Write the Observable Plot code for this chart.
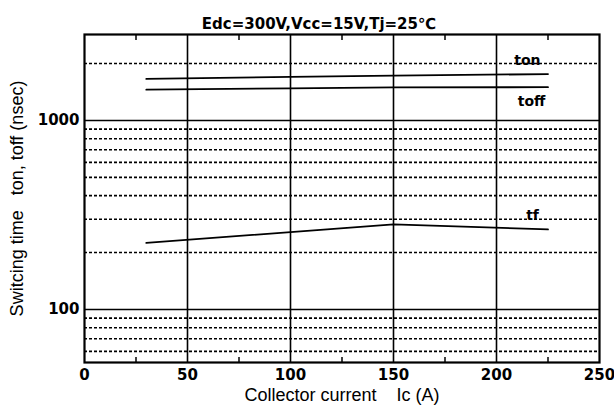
<!DOCTYPE html>
<html>
<head>
<meta charset="utf-8">
<script src="https://cdn.jsdelivr.net/npm/d3@7"></script>
<script src="https://cdn.jsdelivr.net/npm/@observablehq/plot@0.6"></script>
<style>
  html, body { margin: 0; padding: 0; background: #fff; }
  svg { display: block; }
</style>
</head>
<body>
<div id="chart"></div>
<script>
// ---- data ----
const xTicks = [0, 50, 100, 150, 200, 250];
const xMinorTicks = [25, 75, 125, 175, 225];
const xGrid = [50, 100, 150, 200];
const yLabeled = [100, 1000];
const yDashed = [60, 70, 80, 90, 200, 300, 400, 500, 600, 700, 800, 900, 2000];

const icOn = [30, 100, 150, 225];
const tonValues = [1660, 1700, 1725, 1760];
const toffValues = [1455, 1480, 1495, 1500];
const icTf = [30, 150, 225];
const tfValues = [225, 282, 265];

const curveLabels = ["ton", "toff", "tf"];
const curveLabelX = [215, 217, 217.5];
const curveLabelY = [2075, 1260, 314];

const title = "Edc=300V,Vcc=15V,Tj=25℃";
const xLabel = "Collector current\u00A0\u00A0\u00A0\u00A0Ic (A)";
const yLabel = "Switcing time\u00A0\u00A0\u00A0ton, toff (nsec)";

// ---- build ----
const series = [
  {name: "ton", x: icOn, y: tonValues},
  {name: "toff", x: icOn, y: toffValues},
  {name: "tf", x: icTf, y: tfValues}
].flatMap(s => s.x.map((x, i) => ({name: s.name, x, y: s.y[i]})));

const labels = curveLabels.map((t, i) => ({t, x: curveLabelX[i], y: curveLabelY[i]}));

const boldFont = "'DejaVu Sans', sans-serif";
const plainFont = "'Liberation Sans', Arial, sans-serif";

const chart = Plot.plot({
  width: 614,
  height: 417,
  marginLeft: 84,
  marginRight: 15,
  marginTop: 34,
  marginBottom: 55,
  style: {background: "#fff", color: "#000"},
  x: {domain: [0, 250]},
  y: {type: "log", domain: [52.4, 2850]},
  marks: [
    Plot.ruleY(yDashed, {stroke: "#000", strokeWidth: 1.6, strokeDasharray: "3,2"}),
    Plot.ruleY(yLabeled, {stroke: "#000", strokeWidth: 1.6}),
    Plot.ruleX(xGrid, {stroke: "#000", strokeWidth: 1.6}),
    Plot.line(series, {x: "x", y: "y", z: "name", stroke: "#000", strokeWidth: 1.8}),
    Plot.text(labels, {x: "x", y: "y", text: "t", fontFamily: boldFont, fontWeight: "bold", fontSize: 14, fill: "#000"}),
    Plot.axisX({ticks: xTicks, tickSize: 0, tickPadding: 7, label: null,
      fontFamily: boldFont, fontWeight: "bold", fontSize: 15}),
    Plot.axisX({anchor: "bottom", ticks: xMinorTicks, tickSize: 5, dy: -5, tickFormat: () => "", label: null, strokeWidth: 1.5}),
    Plot.axisX({anchor: "top", ticks: xMinorTicks, tickSize: 5, dy: 5, tickFormat: () => "", label: null, strokeWidth: 1.5}),
    Plot.axisY({ticks: yLabeled, tickSize: 0, tickPadding: 5, label: null, tickFormat: d => String(d),
      fontFamily: boldFont, fontWeight: "bold", fontSize: 15}),
    Plot.frame({stroke: "#000", strokeWidth: 2.2}),
    Plot.text([title], {frameAnchor: "top", dx: -23, dy: -16, text: d => d,
      fontFamily: boldFont, fontWeight: "bold", fontSize: 15}),
    Plot.text([xLabel], {frameAnchor: "bottom", dy: 38, text: d => d,
      fontFamily: plainFont, fontSize: 18}),
    Plot.text([yLabel], {frameAnchor: "left", dx: -67, rotate: -90, textAnchor: "middle", text: d => d,
      fontFamily: plainFont, fontSize: 18})
  ]
});
document.getElementById("chart").append(chart);
</script>
</body>
</html>
